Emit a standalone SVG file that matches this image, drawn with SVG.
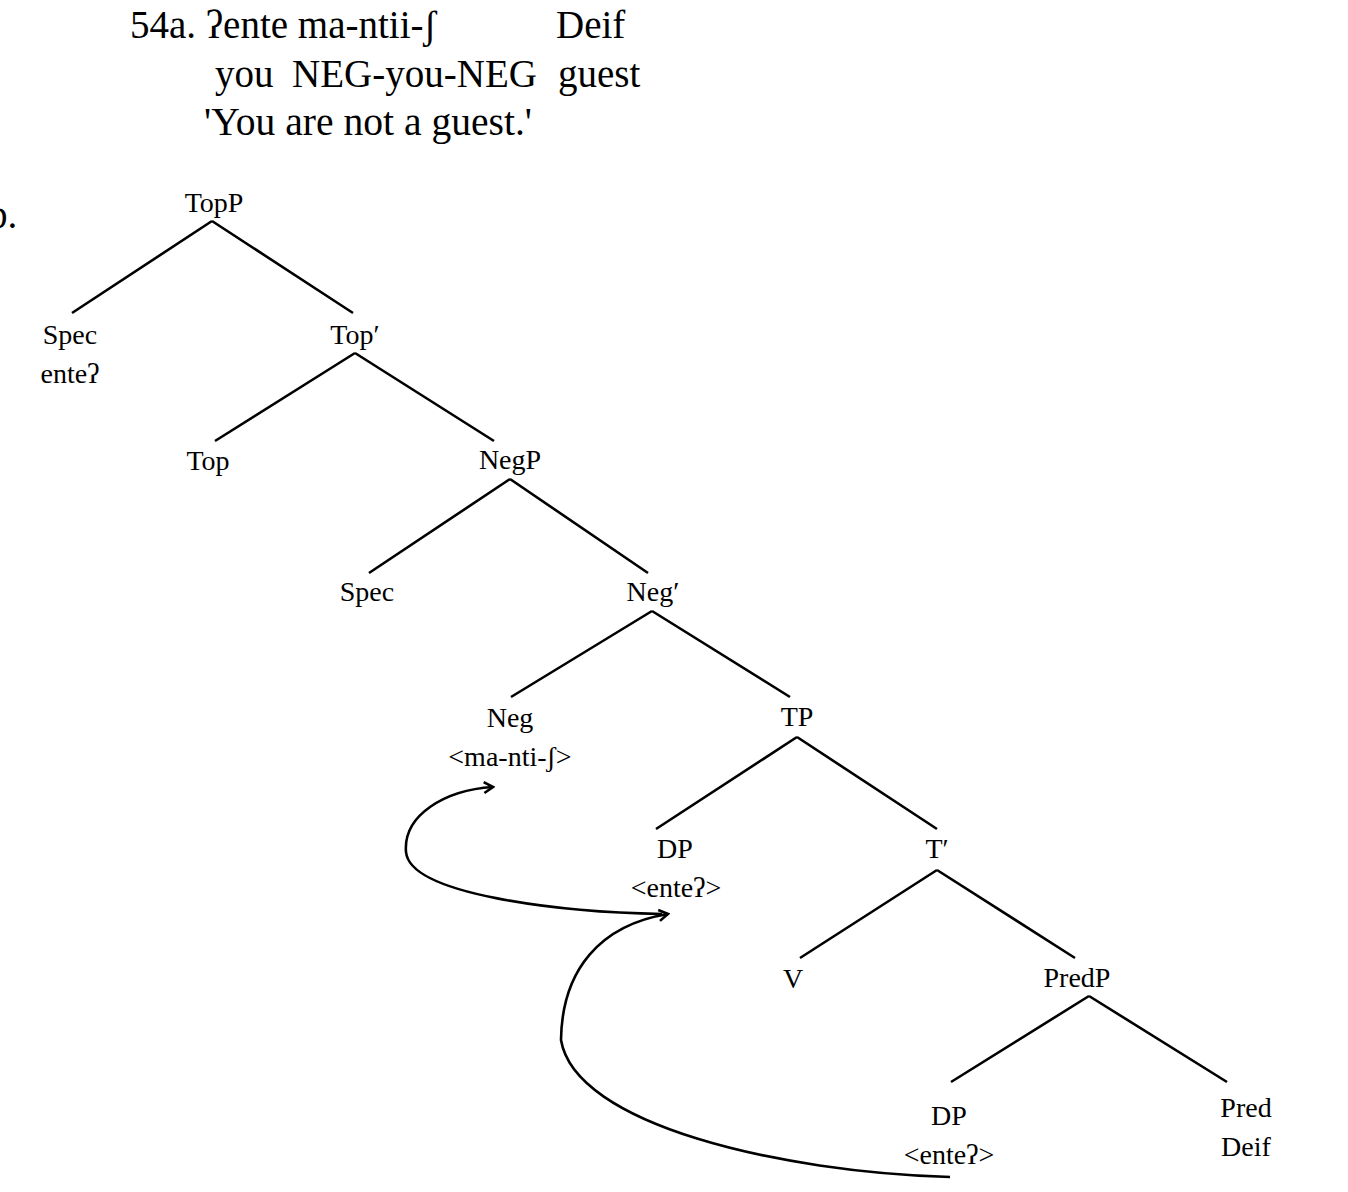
<svg xmlns="http://www.w3.org/2000/svg" width="1348" height="1192" viewBox="0 0 1348 1192">
<defs>
<style>
text{font-family:"Liberation Serif","DejaVu Serif",serif;fill:#000}
.h{font-size:39px}
.n{font-size:28px;text-anchor:middle}
.e{stroke:#000;stroke-width:2.6;fill:none;stroke-linecap:butt}
.m{stroke:#000;stroke-width:2.6;fill:none}
</style>
<marker id="ah" markerWidth="14" markerHeight="14" refX="12" refY="7" orient="auto" markerUnits="userSpaceOnUse">
<path d="M3,1.5 L12,7 L3,12.5" fill="none" stroke="#000" stroke-width="2.6" stroke-linejoin="miter"/>
</marker>
</defs>
<rect width="1348" height="1192" fill="#fff"/>
<g id="example">
<text class="h" x="130" y="38">54a. ʔente ma-ntii-ʃ</text>
<text class="h" x="556" y="38">Deif</text>
<text class="h" x="215" y="87">you</text>
<text class="h" x="292" y="87" textLength="245" lengthAdjust="spacingAndGlyphs">NEG-you-NEG</text>
<text class="h" x="558" y="87">guest</text>
<text class="h" x="204" y="135" textLength="328" lengthAdjust="spacingAndGlyphs">'You are not a guest.'</text>
<text class="h" x="-12" y="228">b.</text>
</g>
<g id="connectors">
<path class="e" d="M212,221 L72,313 M212,221 L353,313"/>
<path class="e" d="M355,353 L215,441 M355,353 L494,441"/>
<path class="e" d="M510,479 L369,573 M510,479 L648,573"/>
<path class="e" d="M652,611 L511,697 M652,611 L790,697"/>
<path class="e" d="M797,737 L656,829 M797,737 L937,829"/>
<path class="e" d="M937,870 L800,958 M937,870 L1075,958"/>
<path class="e" d="M1089,996 L951,1082 M1089,996 L1227,1082"/>
<path class="m" marker-end="url(#ah)" d="M662,914 C560,912 410,895 406,852 C403,815 445,790 493,787"/>
<path class="m" marker-end="url(#ah)" d="M950,1177 C780,1172 575,1125 561,1040 C562,970 600,925 668,914"/>
</g>
<g id="n-topp"><text class="n" x="214" y="212">TopP</text></g>
<g id="n-spec1"><text class="n" x="70" y="344">Spec</text><text class="n" x="70" y="383">enteʔ</text></g>
<g id="n-topbar"><text class="n" x="355" y="344">Top′</text></g>
<g id="n-top"><text class="n" x="208" y="470">Top</text></g>
<g id="n-negp"><text class="n" x="510" y="469">NegP</text></g>
<g id="n-spec2"><text class="n" x="367" y="601">Spec</text></g>
<g id="n-negbar"><text class="n" x="653" y="601">Neg′</text></g>
<g id="n-neg"><text class="n" x="510" y="727">Neg</text><text class="n" x="510" y="766">&lt;ma-nti-ʃ&gt;</text></g>
<g id="n-tp"><text class="n" x="797" y="726">TP</text></g>
<g id="n-dp1"><text class="n" x="675" y="858">DP</text><text class="n" x="676" y="897">&lt;enteʔ&gt;</text></g>
<g id="n-tbar"><text class="n" x="937" y="858">T′</text></g>
<g id="n-v"><text class="n" x="793" y="988">V</text></g>
<g id="n-predp"><text class="n" x="1077" y="987">PredP</text></g>
<g id="n-dp2"><text class="n" x="949" y="1125">DP</text><text class="n" x="949" y="1164">&lt;enteʔ&gt;</text></g>
<g id="n-pred"><text class="n" x="1246" y="1117">Pred</text><text class="n" x="1246" y="1156">Deif</text></g>
</svg>
